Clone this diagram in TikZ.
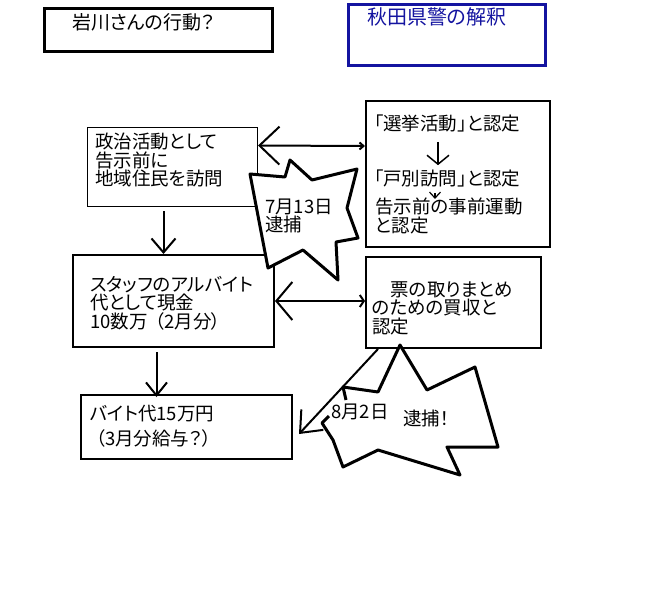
\documentclass[tikz,border=0pt]{standalone}
\usepackage{fontspec}
\setmainfont[RawFeature=+palt]{Noto Sans CJK JP}
\usetikzlibrary{arrows.meta}
\definecolor{policeblue}{RGB}{20,20,160}

\begin{document}
\begin{tikzpicture}[x=1pt,y=-1pt,font=\fontsize{18.5}{18.5}\selectfont,
  box/.style={draw,anchor=north west,inner sep=0pt,line width=2pt},
  txt/.style={anchor=west,inner sep=0pt,align=left},
  conn/.style={line width=2pt},
  burst/.style={draw,line width=3pt,line join=round}]
 \useasboundingbox (0,0) rectangle (650,600);
 % headings
 \node[box,line width=3pt,minimum width=228pt,minimum height=43pt] (who) at (43,7) {};
 \node[txt,font=\fontsize{19}{19}\selectfont] (whoT) at (72,22) {岩川さんの行動？};
 \node[box,draw=policeblue,line width=3pt,minimum width=197pt,minimum height=61pt] (view) at (347,3) {};
 \node[txt,text=policeblue,font=\fontsize{20}{20}\selectfont] (viewT) at (367,17) {秋田県警の解釈};
 % left column: what he did
 \node[box,line width=1pt,minimum width=170pt,minimum height=79pt] (visit) at (87,127) {};
 \node[txt] (visitT) at (95,160) {政治活動として\\告示前に\\地域住民を訪問};
 \node[box,minimum width=201pt,minimum height=92pt] (cash) at (72,254) {};
 \node[txt] (cashT) at (90,303) {スタッフのアルバイト\\代として現金\\10数万\hspace{0.4em}（2月分）};
 \node[box,minimum width=211pt,minimum height=64pt] (wage) at (80,394) {};
 \node[txt] (wageT) at (90,426) {バイト代15万円\\[6pt]\hspace*{0.3em}（3月分給与？）};
 % right column: how the police read it
 \node[box,minimum width=184pt,minimum height=146pt] (campaign) at (365,100) {};
 \node[txt] (camp1) at (374,123) {「選挙活動」と認定};
 \node[txt] (camp2) at (374,178) {「戸別訪問」と認定};
 \node[txt] (camp3) at (375,216) {告示前の事前運動\\と認定};
 \node[box,minimum width=175pt,minimum height=91pt] (bribe) at (365,256) {};
 \node[txt] (bribeT) at (372,308) {\hspace*{1em}票の取りまとめ\\のための買収と\\認定};
 % connectors
 \draw[conn,{Straight Barb[length=20pt,width=38pt]}-{Straight Barb[length=4pt,width=7pt]}]
   ([yshift=21.5pt]visit.east) -- ([yshift=28pt]campaign.west);
 \draw[conn,{Straight Barb[length=16pt,width=38pt]}-{Straight Barb[length=4pt,width=12pt]}]
   (cash.east) -- (cash.east -| bribe.west);
 \draw[conn,-{Straight Barb[length=14pt,width=24pt]}]
   ([xshift=-9pt,yshift=-4pt]visit.south) -- ([xshift=-9pt]visit.south |- cash.north);
 \draw[conn,-{Straight Barb[length=13pt,width=21pt]}]
   ([xshift=-17pt,yshift=-4pt]cash.south) -- ([xshift=-17pt,yshift=-3pt]cash.south |- wage.north);
 \draw[line width=1.5pt,-{Straight Barb[length=9pt,width=22pt]}]
   ([shift={(64pt,-10pt)}]camp1.south west) -- ([xshift=64pt,yshift=4pt]camp1.south west |- camp2.north);
 \draw[line width=1.2pt,-{Straight Barb[length=6pt,width=11pt]}]
   ([shift={(61pt,-6pt)}]camp2.south west) -- ([xshift=61pt,yshift=-1pt]camp2.south west |- camp3.north);
 % arrests
 \fill[white] (250,174) -- (285,177) -- (290,160) -- (312,180) -- (357,169) -- (347,208)
   -- (358,238) -- (336,242) -- (338,280) -- (303,250) -- (268,268) -- cycle;
 \draw[burst] (250,174) -- (285,177) -- (290,160) -- (312,180) -- (357,169) -- (347,208)
   -- (358,238) -- (336,242) -- (338,280) -- (303,250) -- (268,268) -- cycle;
 \node[txt] (arrest1) at (265,216) {7月13日\\逮捕};
 \fill[white] (400,345) -- (427,390) -- (475,367) -- (498,447) -- (447,447) -- (460,475)
   -- (378,450) -- (343,467) -- (333,440) -- (322,423) -- (343,387) -- (378,392) -- cycle;
 \draw[burst] (329,416) -- (322,423) -- (333,440) -- (343,467) -- (378,450) -- (460,475)
   -- (447,447) -- (498,447) -- (475,367) -- (427,390) -- (400,345) -- (378,392)
   -- (343,387) -- (346,400);
 \node[txt] (arrest2a) at (331,412) {8月2日};
 \node[txt] (arrest2b) at (403,418) {逮捕！};
 \draw[conn,-{Straight Barb[length=18pt,width=30pt]}]
   ([xshift=13pt]bribe.south west) -- ([shift={(6pt,-7pt)}]wage.east);
\end{tikzpicture}
\end{document}
